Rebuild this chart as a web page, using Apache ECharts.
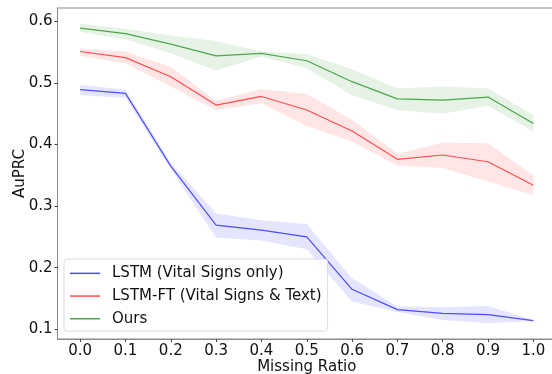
<!DOCTYPE html>
<html><head><meta charset="utf-8">
<script src="https://cdn.jsdelivr.net/npm/echarts@6/dist/echarts.min.js"></script>
<style>html,body{margin:0;padding:0;background:#fff}#c{width:552px;height:374px}</style>
</head><body><div id="c"></div>
<script>
const ratios = [0.0,0.1,0.2,0.3,0.4,0.5,0.6,0.7,0.8,0.9,1.0];
const xTicks = [0.0,0.1,0.2,0.3,0.4,0.5,0.6,0.7,0.8,0.9,1.0];
const yTicks = [0.1,0.2,0.3,0.4,0.5,0.6];

const lstm   = [0.489,0.483,0.365,0.269,0.261,0.250,0.165,0.132,0.126,0.124,0.114];
const lstmLo = [0.480,0.476,0.360,0.249,0.244,0.230,0.145,0.128,0.115,0.110,0.113];
const lstmHi = [0.497,0.489,0.370,0.288,0.277,0.271,0.183,0.137,0.136,0.138,0.115];

const ft   = [0.551,0.541,0.510,0.464,0.478,0.456,0.422,0.376,0.383,0.372,0.334];
const ftLo = [0.544,0.532,0.494,0.456,0.467,0.430,0.405,0.366,0.362,0.340,0.318];
const ftHi = [0.556,0.551,0.526,0.471,0.490,0.482,0.440,0.385,0.403,0.402,0.350];

const ours   = [0.589,0.580,0.563,0.544,0.548,0.536,0.502,0.474,0.472,0.477,0.434];
const oursLo = [0.583,0.571,0.548,0.520,0.543,0.524,0.480,0.456,0.450,0.463,0.421];
const oursHi = [0.596,0.588,0.577,0.568,0.551,0.547,0.522,0.491,0.494,0.491,0.448];

const names = ['LSTM (Vital Signs only)','LSTM-FT (Vital Signs & Text)','Ours'];
const lineColors = ['#4d4dff','#ff4d4d','#4da64d'];
const bandColors = ['#e5e5ff','#ffe5e5','#e5f2e5'];

const pairs = arr => ratios.map((x,i)=>[x,arr[i]]);

function band(lo, hi, color){
  return {type:'custom', silent:true, z:1,
    data: ratios.map((x,i)=>[x, lo[i], hi[i]]),
    encode:{x:0, y:[1,2]},
    renderItem:function(params, api){
      if (params.dataIndex !== 0) return null;
      const up = ratios.map((x,i)=>api.coord([x, hi[i]]));
      const dn = ratios.map((x,i)=>api.coord([x, lo[i]])).reverse();
      return {type:'polygon', shape:{points: up.concat(dn)},
        style:{fill:color, stroke:null}};
    }};
}
function main(name, arr, color){
  return {type:'line', name:name, data:pairs(arr), symbol:'none', color:color,
    lineStyle:{color:color, width:1.2}, z:3};
}

const chart = echarts.init(document.getElementById('c'), null, {renderer:'canvas'});
chart.setOption({
  animation:false,
  grid:{left:57.5, right:-4, top:8, bottom:35, outerBoundsMode:'none', containLabel:false,
    show:true, borderColor:'#8a8a8a', borderWidth:1, backgroundColor:'transparent'},
  xAxis:{type:'value', min:-0.05, max:1.05,
    name:'Missing Ratio', nameLocation:'middle', nameGap:21, nameMoveOverlap:false,
    nameTextStyle:{fontFamily:'DejaVu Sans', fontSize:15, color:'#111', verticalAlign:'top'},
    axisLine:{show:true, onZero:false, lineStyle:{color:'#8a8a8a', width:1}},
    axisTick:{show:true, length:3, lineStyle:{color:'#444'}, customValues:xTicks},
    axisLabel:{fontFamily:'DejaVu Sans', fontSize:15, color:'#111', margin:5,
      customValues:xTicks, formatter:v=>v.toFixed(1)},
    splitLine:{show:false}},
  yAxis:{type:'value', min:0.0843, max:0.6216,
    name:'AuPRC', nameLocation:'middle', nameGap:30, nameRotate:90, nameMoveOverlap:false,
    nameTextStyle:{fontFamily:'DejaVu Sans', fontSize:15, color:'#111'},
    axisLine:{show:true, onZero:false, lineStyle:{color:'#8a8a8a', width:1}},
    axisTick:{show:true, length:3, lineStyle:{color:'#444'}, customValues:yTicks},
    axisLabel:{fontFamily:'DejaVu Sans', fontSize:15, color:'#111', margin:5,
      customValues:yTicks, formatter:v=>v.toFixed(1)},
    splitLine:{show:false}},
  legend:{data:names, orient:'vertical', left:64, top:259,
    icon:'rect', itemWidth:30, itemHeight:1.5, itemGap:0,
    padding:[3,6,1,6],
    backgroundColor:'rgba(255,255,255,0.8)', borderColor:'#dcdcdc', borderWidth:1, borderRadius:3,
    textStyle:{fontFamily:'DejaVu Sans', fontSize:15, color:'#111', lineHeight:22.7, padding:[0,0,0,7]}},
  series:[
    band(lstmLo, lstmHi, bandColors[0]),
    band(ftLo, ftHi, bandColors[1]),
    band(oursLo, oursHi, bandColors[2]),
    main(names[0], lstm, lineColors[0]),
    main(names[1], ft, lineColors[1]),
    main(names[2], ours, lineColors[2])
  ]
});
</script></body></html>
